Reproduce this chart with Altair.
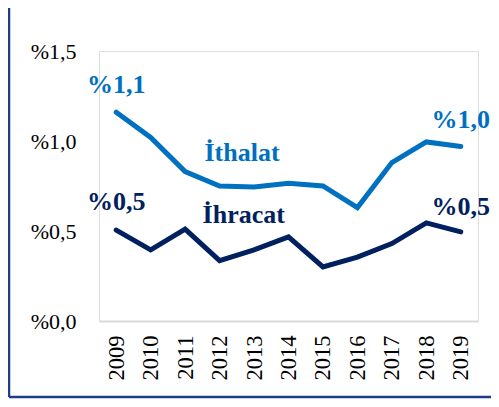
import altair as alt
import pandas as pd

years = list(range(2009, 2020))
ithalat = [1.16, 1.02, 0.83, 0.75, 0.745, 0.765, 0.75, 0.63, 0.88, 0.995, 0.97]
ihracat = [0.505, 0.395, 0.51, 0.335, 0.395, 0.467, 0.30, 0.355, 0.43, 0.545, 0.495]
series_names = ["İthalat", "İhracat"]
series_colors = ["#0070C0", "#002060"]

y_ticks = [0, 0.5, 1.0, 1.5]

ann_text = ["%1,1", "%1,0", "%0,5", "%0,5", "İthalat", "İhracat"]
ann_x = [2009, 2019, 2009, 2019, 2012.65, 2012.7]
ann_y = [1.267, 1.072, 0.617, 0.589, 0.889, 0.544]
ann_series = ["İthalat", "İthalat", "İhracat", "İhracat", "İthalat", "İhracat"]

FONT = "Liberation Serif, Times New Roman, Times, serif"

rows = []
for y, a, b in zip(years, ithalat, ihracat):
    rows.append({"year": str(y), "value": a, "series": "İthalat"})
    rows.append({"year": str(y), "value": b, "series": "İhracat"})
df = pd.DataFrame(rows)

ann = pd.DataFrame({"text": ann_text, "yearq": ann_x, "value": ann_y, "series": ann_series})

color = alt.Color("series:N", scale=alt.Scale(domain=series_names, range=series_colors), legend=None)
yscale = alt.Scale(domain=[0, 1.5], nice=False)

x_axis = alt.Axis(labelAngle=270, grid=False, ticks=False,
                  domain=True, domainColor="#d9d9d9", domainWidth=2,
                  labelFontSize=22.5, labelColor="#000000", labelPadding=14,
                  labelOverlap=False, title=None, labelFont=FONT)
y_axis = alt.Axis(values=y_ticks, grid=False, ticks=False, domain=False,
                  labelExpr="'%' + replace(format(datum.value, '.1f'), '.', ',')",
                  labelFontSize=22, labelColor="#000000", labelPadding=23,
                  labelFlush=False, title=None, labelFont=FONT)

lines = alt.Chart(df).mark_line(strokeWidth=5, strokeCap="round").encode(
    x=alt.X("year:O", scale=alt.Scale(type="point", padding=0.5), axis=x_axis),
    y=alt.Y("value:Q", scale=yscale, axis=y_axis),
    color=color,
)

labels = alt.Chart(ann).mark_text(font=FONT, fontWeight="bold", fontSize=26,
                                  align="center", baseline="alphabetic").encode(
    x=alt.X("yearq:Q", scale=alt.Scale(domain=[2008.5, 2019.5], nice=False, zero=False), axis=None),
    y=alt.Y("value:Q", scale=yscale),
    text="text:N",
    color=color,
)

border_data = alt.Data(values=[{"k": 1}])
left_border = alt.Chart(border_data).mark_rule(color="#1F3C88", strokeWidth=2.5).encode(
    x=alt.value(-90), y=alt.value(-45), y2=alt.value(346))
bottom_border = alt.Chart(border_data).mark_rule(color="#1F3C88", strokeWidth=2.5).encode(
    x=alt.value(-90), x2=alt.value(420), y=alt.value(346))

chart = alt.layer(lines, labels, left_border, bottom_border).resolve_scale(
    x="independent"
).properties(
    width=379, height=270,
    padding={"left": 91, "top": 43, "right": 13, "bottom": 78},
    autosize=alt.AutoSizeParams(type="none"),
).configure_view(stroke=None).configure(font=FONT)

chart.save("out.html", embed_options={"renderer": "svg", "actions": False})
